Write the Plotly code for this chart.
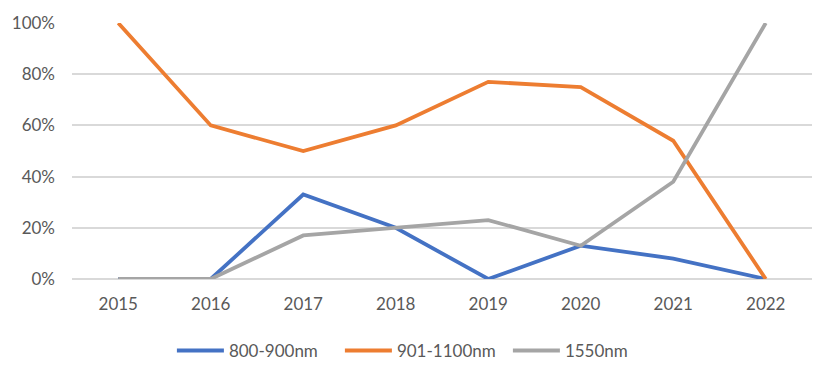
import plotly.graph_objects as go

years = ["2015", "2016", "2017", "2018", "2019", "2020", "2021", "2022"]
s_800_900 = [0, 0, 33, 20, 0, 13, 8, 0]
s_901_1100 = [100, 60, 50, 60, 77, 75, 54, 0]
s_1550 = [0, 0, 17, 20, 23, 13, 38, 100]
y_ticks = [0, 20, 40, 60, 80, 100]
y_tick_labels = ["0%", "20%", "40%", "60%", "80%", "100%"]

fig = go.Figure()
for name, vals, col in [("800-900nm", s_800_900, "#4472C4"),
                        ("901-1100nm", s_901_1100, "#ED7D31"),
                        ("1550nm", s_1550, "#A5A5A5")]:
    fig.add_trace(go.Scatter(x=years, y=vals, mode="lines", name=name,
                             line=dict(color=col, width=3.8)))

fig.update_layout(
    width=807, height=356,
    margin=dict(l=64, r=3, t=15, b=85, autoexpand=False),
    paper_bgcolor="white", plot_bgcolor="white",
    font=dict(family="Lato, Open Sans, sans-serif", size=17, color="#595959"),
    xaxis=dict(type="category", range=[-0.5, 7.5], showgrid=False,
               showline=False, ticks="", tickfont=dict(size=17),
               ticklabelstandoff=13),
    yaxis=dict(range=[0, 100], tickvals=y_ticks, ticktext=y_tick_labels,
               showgrid=True, gridcolor="#D9D9D9", gridwidth=1.5,
               zeroline=True, zerolinecolor="#D9D9D9", zerolinewidth=1.5,
               ticks="", tickfont=dict(size=17), ticklabelstandoff=16),
    legend=dict(orientation="h", x=0.135, xanchor="left", y=-0.281, yanchor="middle",
                font=dict(size=17), tracegroupgap=0, entrywidth=106, itemwidth=47),
    showlegend=True,
)
fig.update_yaxes(automargin=False)
fig.update_xaxes(automargin=False)
fig.write_html("out.html")
